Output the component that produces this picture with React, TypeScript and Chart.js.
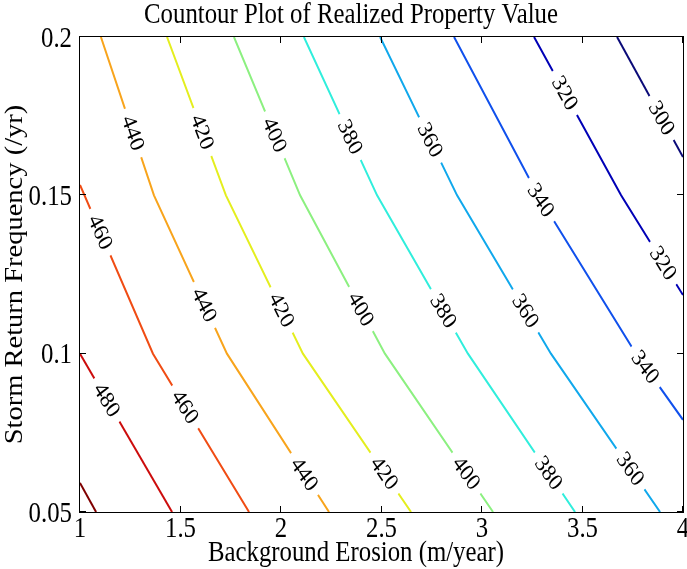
import React, { useEffect, useRef } from "react";
import { Chart, registerables } from "chart.js";

Chart.register(...registerables);

// ---------- data ----------
const levels = [300, 320, 340, 360, 380, 400, 420, 440, 460, 480, 500];
const levelColors = [
  "#0a0a78", "#0000b6", "#1050ec", "#10a8ec", "#30eedc", "#8cf080",
  "#e4ee1e", "#f8a41c", "#f04c14", "#cc0c0c", "#800000",
];

// contour vertices (x = background erosion, y = storm return frequency)
const x300 = [3.672, 4.0];
const y300 = [0.2, 0.1621];
const x320 = [3.259, 3.692, 4.0];
const y320 = [0.2, 0.15, 0.1185];
const x340 = [2.861, 3.279, 3.766, 4.0];
const y340 = [0.2, 0.15, 0.1, 0.0791];
const x360 = [2.493, 2.876, 3.343, 3.886];
const y360 = [0.2, 0.15, 0.1, 0.05];
const x380 = [2.114, 2.478, 2.93, 3.463];
const y380 = [0.2, 0.15, 0.1, 0.05];
const x400 = [1.766, 2.095, 2.517, 3.055];
const y400 = [0.2, 0.15, 0.1, 0.05];
const x420 = [1.433, 1.726, 2.109, 2.647];
const y420 = [0.2, 0.15, 0.1, 0.05];
const x440 = [1.104, 1.368, 1.731, 2.239];
const y440 = [0.2, 0.15, 0.1, 0.05];
const x460 = [1.0, 1.363, 1.841];
const y460 = [0.1533, 0.1, 0.05];
const x480 = [1.0, 1.458];
const y480 = [0.1, 0.05];
const x500 = [1.0, 1.08];
const y500 = [0.0592, 0.05];

const contourX = [x300, x320, x340, x360, x380, x400, x420, x440, x460, x480, x500];
const contourY = [y300, y320, y340, y360, y380, y400, y420, y440, y460, y480, y500];

// inline contour labels: level and the frequency where the label sits
const labelLevels = [
  440, 420, 400, 380, 360, 320, 300, 340, 320, 460, 440, 420,
  400, 380, 360, 340, 480, 460, 440, 420, 400, 380, 360,
];
const labelYs = [
  0.1697, 0.17, 0.1691, 0.1684, 0.1675, 0.1823, 0.1744, 0.1485, 0.1286, 0.1384, 0.1154, 0.1138,
  0.1141, 0.1135, 0.1135, 0.0958, 0.0854, 0.0832, 0.062, 0.0623, 0.0623, 0.0623, 0.0636,
];

const xTicks = [1, 1.5, 2, 2.5, 3, 3.5, 4];
const xTickLabels = ["1", "1.5", "2", "2.5", "3", "3.5", "4"];
const yTicks = [0.05, 0.1, 0.15, 0.2];
const yTickLabels = ["0.05", "0.1", "0.15", "0.2"];

const titleText = "Countour Plot of Realized Property Value";
const xTitleText = "Background Erosion (m/year)";
const yTitleText = "Storm Return Frequency (/yr)";

// ---------- drawing helpers ----------
const SX = 0.87; // horizontal squish of the reference figure
const FONT = '"Liberation Serif", "Times New Roman", serif';

function squishText(
  ctx: CanvasRenderingContext2D,
  text: string,
  x: number,
  y: number,
  size: number,
  align: CanvasTextAlign,
  rot = 0
) {
  ctx.save();
  ctx.translate(x, y);
  ctx.scale(SX, 1);
  if (rot) ctx.rotate(rot);
  ctx.font = `${size}px ${FONT}`;
  ctx.fillStyle = "#000";
  ctx.textAlign = align;
  ctx.textBaseline = "alphabetic";
  ctx.fillText(text, 0, 0);
  ctx.restore();
}

const decorPlugin = {
  id: "contourDecor",
  afterDatasetsDraw(chart: any) {
    const ctx: CanvasRenderingContext2D = chart.ctx;
    const xs = chart.scales.x;
    const ys = chart.scales.y;
    labelLevels.forEach((lvl, i) => {
      const li = levels.indexOf(lvl);
      const px = contourX[li].map((v) => xs.getPixelForValue(v));
      const py = contourY[li].map((v) => ys.getPixelForValue(v));
      const ty = ys.getPixelForValue(labelYs[i]);
      for (let k = 0; k < px.length - 1; k++) {
        const y0 = py[k];
        const y1 = py[k + 1];
        if ((ty - y0) * (ty - y1) <= 0 && y0 !== y1) {
          const t = (ty - y0) / (y1 - y0);
          const cx = px[k] + t * (px[k + 1] - px[k]);
          const dx = px[k + 1] - px[k];
          const dy = y1 - y0;
          let a = Math.atan2(dy, dx / SX);
          if (a > Math.PI / 2) a -= Math.PI;
          if (a < -Math.PI / 2) a += Math.PI;
          ctx.save();
          ctx.translate(cx, ty);
          ctx.scale(SX, 1);
          ctx.rotate(a);
          ctx.font = `24px ${FONT}`;
          const text = String(lvl);
          const w = ctx.measureText(text).width;
          ctx.fillStyle = "#ffffff";
          ctx.fillRect(-w / 2 - 8, -7, w + 16, 14);
          ctx.fillStyle = "#000";
          ctx.textAlign = "center";
          ctx.textBaseline = "middle";
          ctx.fillText(text, 0, 1);
          ctx.restore();
          break;
        }
      }
    });
  },
  afterDraw(chart: any) {
    const ctx: CanvasRenderingContext2D = chart.ctx;
    const { left, right, top, bottom } = chart.chartArea;
    const xs = chart.scales.x;
    const ys = chart.scales.y;
    ctx.save();
    ctx.strokeStyle = "#000";
    ctx.lineWidth = 1;
    ctx.strokeRect(left - 0.5, top - 0.5, right - left + 1, bottom - top + 1);
    const TL = 6;
    ctx.beginPath();
    xTicks.forEach((v) => {
      const p = Math.round(xs.getPixelForValue(v)) - 0.5;
      ctx.moveTo(p, bottom);
      ctx.lineTo(p, bottom - TL);
      ctx.moveTo(p, top);
      ctx.lineTo(p, top + TL);
    });
    yTicks.forEach((v) => {
      const p = Math.round(ys.getPixelForValue(v)) - 0.5;
      ctx.moveTo(left, p);
      ctx.lineTo(left + TL, p);
      ctx.moveTo(right, p);
      ctx.lineTo(right - TL, p);
    });
    ctx.stroke();
    ctx.restore();

    const FS = 28.5;
    xTicks.forEach((v, i) => {
      squishText(ctx, xTickLabels[i], xs.getPixelForValue(v), 537, FS, "center");
    });
    yTicks.forEach((v, i) => {
      squishText(ctx, yTickLabels[i], 72, ys.getPixelForValue(v) + 9.5, FS, "right");
    });
    squishText(ctx, titleText, 351, 23, FS, "center");
    squishText(ctx, xTitleText, 356, 561, FS, "center");
    squishText(ctx, yTitleText, 22, (top + bottom) / 2, FS, "center", -Math.PI / 2);
  },
};

export default function App() {
  const ref = useRef<HTMLCanvasElement | null>(null);
  useEffect(() => {
    if (!ref.current) return;
    const datasets = levels.map((lvl, i) => ({
      label: String(lvl),
      data: contourX[i].map((x, k) => ({ x, y: contourY[i][k] })),
      showLine: true,
      borderColor: levelColors[i],
      backgroundColor: levelColors[i],
      borderWidth: 2,
      pointRadius: 0,
      pointHoverRadius: 0,
      fill: false,
      tension: 0,
    }));
    const chart = new Chart(ref.current, {
      type: "scatter",
      data: { datasets },
      options: {
        responsive: false,
        animation: false,
        events: [],
        layout: { padding: { top: 37, right: 4, left: 0, bottom: 0 } },
        plugins: {
          legend: { display: false },
          tooltip: { enabled: false },
          title: { display: false },
        },
        scales: {
          x: {
            type: "linear",
            min: 1,
            max: 4,
            ticks: { display: false },
            grid: { display: false },
            border: { display: false },
            afterFit: (s: any) => {
              s.height = 57;
            },
          },
          y: {
            type: "linear",
            min: 0.05,
            max: 0.2,
            ticks: { display: false },
            grid: { display: false },
            border: { display: false },
            afterFit: (s: any) => {
              s.width = 80;
            },
          },
        },
      },
      plugins: [decorPlugin],
    } as any);
    return () => chart.destroy();
  }, []);
  return (
    <canvas
      ref={ref}
      width={687}
      height={569}
      style={{ position: "absolute", left: 0, top: 0, display: "block", background: "#fff" }}
    />
  );
}
